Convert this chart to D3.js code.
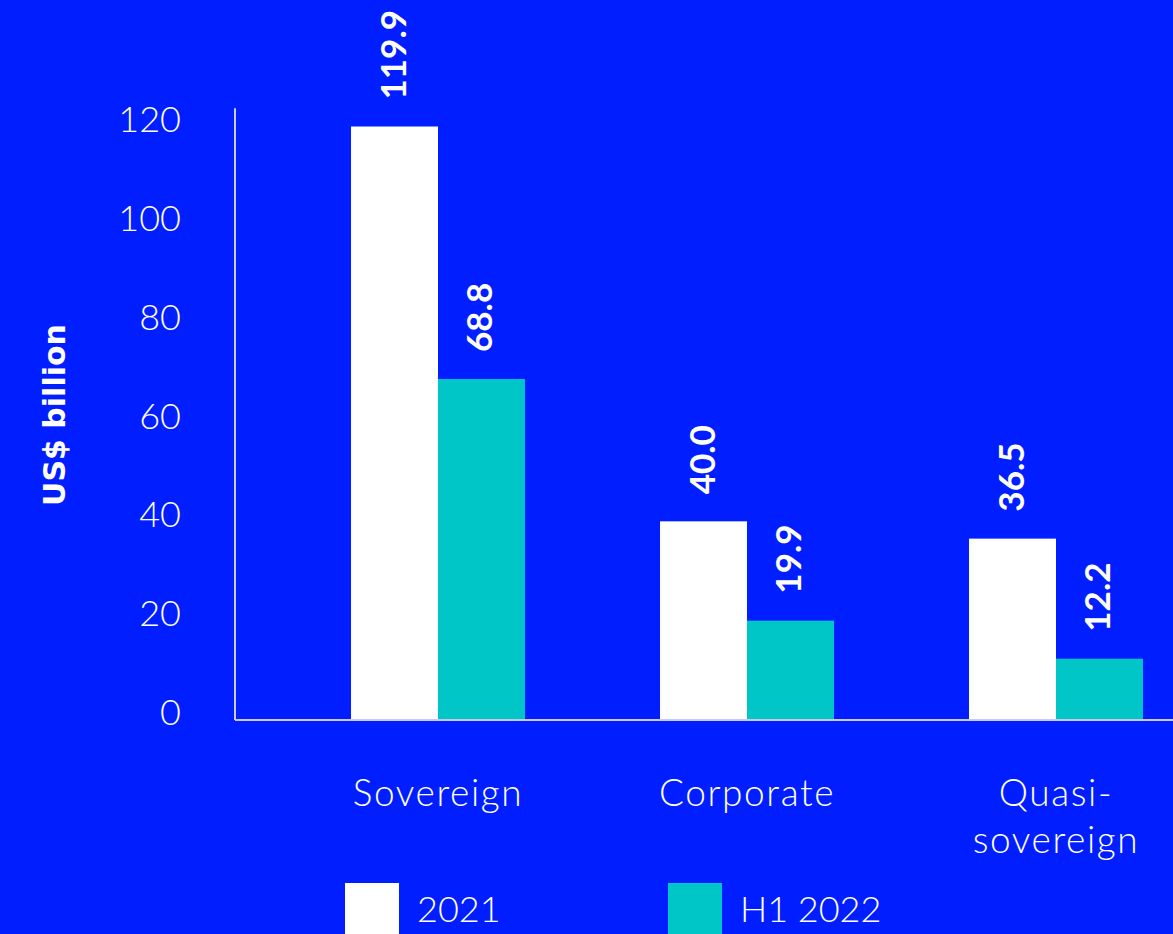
<!DOCTYPE html>
<html>
<head>
<meta charset="utf-8">
<script src="https://cdn.jsdelivr.net/npm/d3@7"></script>
<style>
  html, body { margin: 0; padding: 0; background: #001eff; overflow: hidden; }
  svg { display: block; }
</style>
</head>
<body>
<svg id="chart" width="1173" height="934"></svg>
<script>
// Bond issuance by issuer type, US$ billion
const categories = ["Sovereign", "Corporate", "Quasi-sovereign"];
const categoryLines = [["Sovereign"], ["Corporate"], ["Quasi-", "sovereign"]];
const seriesNames = ["2021", "H1 2022"];
const values2021 = [119.9, 40.0, 36.5];
const valuesH12022 = [68.8, 19.9, 12.2];
const yTicks = [0, 20, 40, 60, 80, 100, 120];
const seriesColors = ["#ffffff", "#00c6c8"];
const yTitle = "US$ billion";

const W = 1173, H = 934;
const svg = d3.select("#chart");
svg.append("rect").attr("width", W).attr("height", H).attr("fill", "#001eff");

const lightFont = "Lato, 'Open Sans', sans-serif";
const x0 = 235, yBase = 719;
const y = d3.scaleLinear().domain([0, 120]).range([yBase, 126]);
const x = d3.scaleBand().domain(categories).range([283.5, 1210.5])
  .paddingInner(0.437).paddingOuter(0.2185);
const xs = d3.scaleBand().domain(seriesNames).range([0, x.bandwidth()]);

const data = categories.map((c, i) => ({ cat: c, vals: [values2021[i], valuesH12022[i]] }));

// bars
const groups = svg.append("g").selectAll("g").data(data).join("g")
  .attr("transform", d => `translate(${x(d.cat)},0)`);
groups.selectAll("rect").data(d => d.vals.map((v, j) => ({ v, s: seriesNames[j], j })))
  .join("rect")
  .attr("x", d => xs(d.s))
  .attr("width", xs.bandwidth())
  .attr("y", d => y(d.v))
  .attr("height", d => yBase - y(d.v))
  .attr("fill", d => seriesColors[d.j]);

// value labels, rotated to read upwards
groups.selectAll("text").data(d => d.vals.map((v, j) => ({ v, s: seriesNames[j], j })))
  .join("text")
  .attr("transform", d => `translate(${xs(d.s) + xs.bandwidth() / 2 + 11},${y(d.v) - 27}) rotate(-90)`)
  .attr("fill", "#fff")
  .attr("font-family", "Lato, sans-serif")
  .attr("font-weight", "bold")
  .attr("font-size", 35)
  .text(d => d.v.toFixed(1));

// axis lines
const axisColor = "#c9cbe6";
svg.append("line").attr("x1", x0).attr("x2", x0).attr("y1", y(123.6)).attr("y2", yBase + 1)
  .attr("stroke", axisColor).attr("stroke-width", 2);
svg.append("line").attr("x1", x0).attr("x2", W).attr("y1", yBase + 1).attr("y2", yBase + 1)
  .attr("stroke", axisColor).attr("stroke-width", 2);

// y tick labels
const yAxis = d3.axisLeft(y).tickValues(yTicks).tickSize(0).tickPadding(0);
const ya = svg.append("g").attr("transform", "translate(181,-6)").call(yAxis);
ya.select(".domain").remove();
ya.selectAll("text")
  .attr("fill", "#fff")
  .attr("font-family", lightFont)
  .attr("font-weight", 300)
  .attr("font-size", 36);

// y axis title
svg.append("text")
  .attr("transform", "translate(65,415) rotate(-90)")
  .attr("text-anchor", "middle")
  .attr("fill", "#fff")
  .attr("font-family", "'DejaVu Sans', sans-serif")
  .attr("font-weight", "bold")
  .attr("font-size", 30)
  .text(yTitle);

// category labels
svg.append("g").selectAll("text").data(categories).join("text")
  .attr("x", d => x(d) + x.bandwidth() / 2)
  .attr("y", 806)
  .attr("text-anchor", "middle")
  .attr("fill", "#fff")
  .attr("font-family", lightFont)
  .attr("font-weight", 300)
  .attr("font-size", 37)
  .attr("letter-spacing", 1.6)
  .each(function (d, i) {
    const t = d3.select(this);
    categoryLines[i].forEach((line, k) => {
      t.append("tspan").attr("x", x(d) + x.bandwidth() / 2).attr("dy", k === 0 ? 0 : 47).text(line);
    });
  });

// legend
const legendX = [345, 668];
const lg = svg.append("g").selectAll("g").data(seriesNames).join("g")
  .attr("transform", (d, i) => `translate(${legendX[i]},883)`);
lg.append("rect").attr("width", 54).attr("height", 54).attr("fill", (d, i) => seriesColors[i]);
lg.append("text").attr("x", 72).attr("y", 39)
  .attr("fill", "#fff")
  .attr("font-family", lightFont)
  .attr("font-weight", 300)
  .attr("font-size", 36)
  .text(d => d);
</script>
</body>
</html>
